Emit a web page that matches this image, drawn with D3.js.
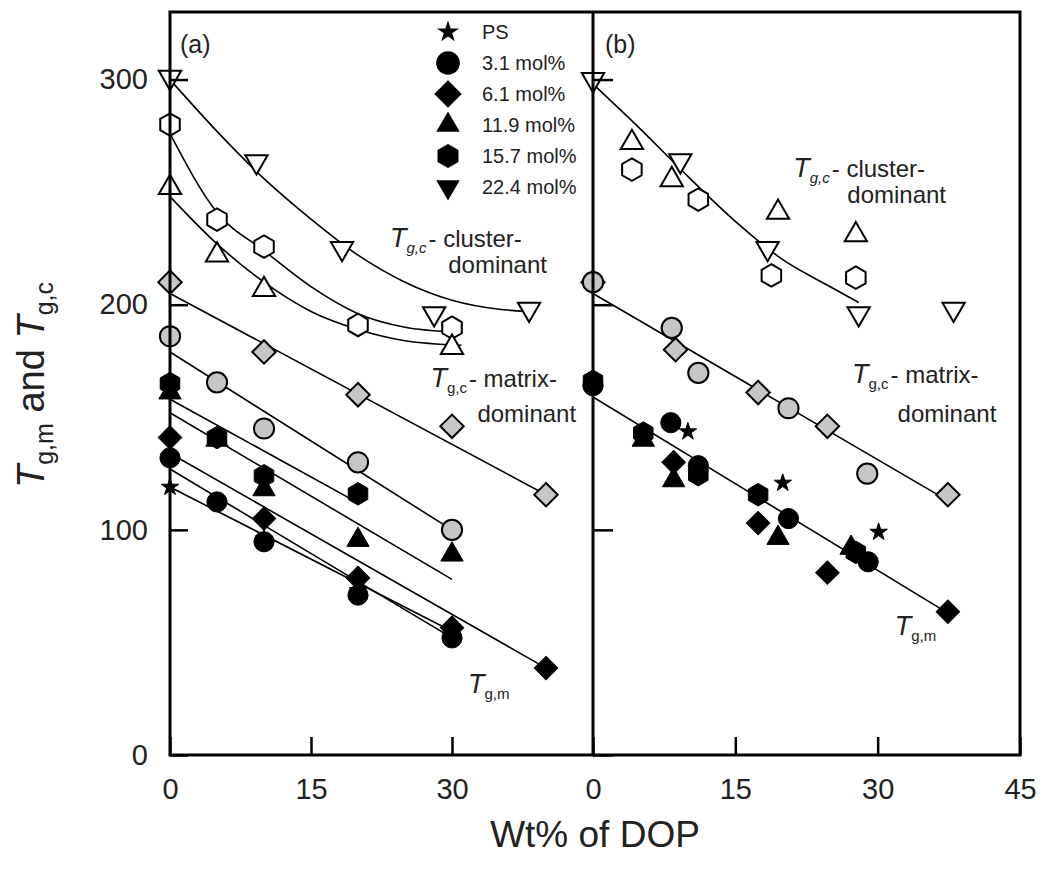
<!DOCTYPE html>
<html lang="en">
  <head>
    <meta charset="utf-8">
    <title>Tg,m and Tg,c vs DOP</title>
    <script src="https://d3js.org/d3.v7.min.js"></script>
    <style type="text/css">
      body { margin: 0; background: #fff; }
      svg { display: block; font-family: "Liberation Sans", Arial, sans-serif; }
      .tick text { font-size: 29px; fill: #222; }
      .tick line { stroke: #000; stroke-width: 2.5px; }
      .fit { fill: none; stroke: #000; stroke-width: 1.6px; }
      .frame { fill: none; stroke: #000; stroke-width: 3px; }
      .note { font-size: 24px; fill: #222; }
    </style>
  </head>
  <body>
    <div id="chart"></div>
    <script>
      // ---- values ----
      var seriesNames  = ["PS", "3.1 mol%", "6.1 mol%", "11.9 mol%", "15.7 mol%", "22.4 mol%"];
      var seriesShapes = ["star", "circle", "diamond", "triangle", "hexagon", "triangleDown"];
      var xTicksA = [0, 15, 30];
      var xTicksB = [0, 15, 30, 45];
      var yTicks  = [0, 100, 200, 300];

      // panel (a): Tg,m (black)
      var a_PS_m  = [[0,119],[10,96],[20,73],[30,53]];
      var a_31_m  = [[0,132],[5,112.4],[10,94.7],[20,71],[30,52]];
      var a_61_m  = [[0,141],[10,105],[20,78.6],[30,56.5],[40,38.6]];
      var a_119_m = [[0,161],[5,140],[10,118],[20,95.5],[30,89]];
      var a_157_m = [[0,165],[5,141],[10,124],[20,116]];
      // panel (a): Tg,c matrix-dominant (grey)
      var a_31_g  = [[0,186],[5,165.5],[10,145],[20,130],[30,100]];
      var a_61_g  = [[0,210],[10,179],[20,160],[30,146],[40,115.6]];
      // panel (a): Tg,c cluster-dominant (open)
      var a_119_c = [[0,252],[5,222],[10,206.7],[30,181]];
      var a_157_c = [[0,280],[5,237.8],[10,225.8],[20,191],[30,189.8]];
      var a_224_c = [[0,301],[9.2,263.5],[18.3,225],[28.1,196],[38.2,198]];

      // panel (b)
      var b_PS_m  = [[10,143.6],[20,120.8],[30.1,99]];
      var b_31_m  = [[0,164],[8.2,147.6],[11.1,128.5],[20.6,105],[29,85.8]];
      var b_61_m  = [[8.5,130],[17.4,103],[24.7,81],[37.4,63.6]];
      var b_119_m = [[5.3,140],[8.5,122],[19.5,96.4],[27.2,92]];
      var b_157_m = [[0,166],[5.3,143],[11.1,124.5],[17.4,115.6],[27.7,90]];
      var b_31_g  = [[0,210],[8.3,189.7],[11.1,169.7],[20.6,154],[28.9,125]];
      var b_61_g  = [[0,210],[8.7,180],[17.4,161],[24.7,146],[37.4,115.6]];
      var b_119_c = [[4.1,272],[8.3,255.5],[19.5,241],[27.7,231]];
      var b_157_c = [[4.1,260],[11.1,246.7],[18.8,213],[27.7,212]];
      var b_224_c = [[0,300],[9.2,264],[18.4,225],[28,196],[38,198]];

      // fitted lines
      var aFitPS   = [[0,119],[30,55]];
      var aFit31m  = [[0,127],[30,52]];
      var aFit61m  = [[0,134],[40,38.6]];
      var aFit119m = [[0,152],[30,78]];
      var aFit157m = [[0,158],[20,112]];
      var aFit31g  = [[0,179],[30,100]];
      var aFit61g  = [[0,205],[40,115.6]];
      var aFit119c = [[0,248],[5,227],[10,210],[15,197],[20,189],[25,184],[31,182]];
      var aFit157c = [[0,276],[5,241],[10,224],[15,208],[20,196],[25,190],[30,188]];
      var aFit224c = [[0,300],[5,277],[10,256],[15,238],[20,222],[25,210],[30,202],[35,198],[38,197]];
      var bFitC = [[0,298],[5,278],[10,257],[15,237],[20,220],[25,208],[28,201]];
      var bFitG = [[0,205],[37.4,113]];
      var bFitM = [[0,159],[37.4,63]];

      // ---- layout ----
      var W = 1043, H = 874;
      var svg = d3.select("#chart").append("svg").attr("width", W).attr("height", H);

      var y  = d3.scaleLinear().domain([0, 330]).range([755, 12]);
      var xA = d3.scaleLinear().domain([0, 45]).range([170, 593]);
      var xB = d3.scaleLinear().domain([0, 45]).range([593, 1020]);

      var BLACK = "#000", GREY = "#c6c6c6", OPEN = "#fff";

      var symbolHexagon = {
        draw: function(context, size) {
          var r = Math.sqrt(size / (1.5 * Math.sqrt(3)));
          for (var i = 0; i < 6; i++) {
            var a = Math.PI / 3 * i - Math.PI / 2;
            if (i === 0) context.moveTo(r * Math.cos(a), r * Math.sin(a));
            else context.lineTo(r * Math.cos(a), r * Math.sin(a));
          }
          context.closePath();
        }
      };
      var shapeTypes = {
        star: [d3.symbolStar, 0], circle: [d3.symbolCircle, 0], diamond: [d3.symbolSquare, 45],
        triangle: [d3.symbolTriangle, 0], hexagon: [symbolHexagon, 0], triangleDown: [d3.symbolTriangle, 180]
      };
      var plotSizes   = { star: 95, circle: 320, diamond: 275, triangle: 215, hexagon: 330, triangleDown: 215 };
      var legendSizes = { star: 150, circle: 440, diamond: 380, triangle: 240, hexagon: 380, triangleDown: 240 };

      function symbolPath(shape, size) {
        return d3.symbol().type(shapeTypes[shape][0]).size(size)();
      }

      // ---- fitted lines ----
      var line = function(x) {
        return d3.line().x(function(d) { return x(d[0]); }).y(function(d) { return y(d[1]); }).curve(d3.curveMonotoneX);
      };
      var fitsA = [aFitPS, aFit31m, aFit61m, aFit119m, aFit157m, aFit31g, aFit61g, aFit119c, aFit157c, aFit224c];
      var fitsB = [bFitC, bFitG, bFitM];
      svg.append("g").selectAll("path.a").data(fitsA).enter().append("path")
        .attr("class", "fit").attr("d", line(xA));
      svg.append("g").selectAll("path.b").data(fitsB).enter().append("path")
        .attr("class", "fit").attr("d", line(xB));

      // ---- markers ----
      var marks = [
        [xA, a_224_c, 5, OPEN], [xA, a_157_c, 4, OPEN], [xA, a_119_c, 3, OPEN],
        [xA, a_61_g, 2, GREY], [xA, a_31_g, 1, GREY],
        [xA, a_PS_m, 0, BLACK], [xA, a_31_m, 1, BLACK], [xA, a_61_m, 2, BLACK],
        [xA, a_119_m, 3, BLACK], [xA, a_157_m, 4, BLACK],
        [xB, b_224_c, 5, OPEN], [xB, b_157_c, 4, OPEN], [xB, b_119_c, 3, OPEN],
        [xB, b_61_g, 2, GREY], [xB, b_31_g, 1, GREY],
        [xB, b_PS_m, 0, BLACK], [xB, b_119_m, 3, BLACK], [xB, b_61_m, 2, BLACK],
        [xB, b_157_m, 4, BLACK], [xB, b_31_m, 1, BLACK]
      ];
      marks.forEach(function(m) {
        var x = m[0], shape = seriesShapes[m[2]];
        svg.append("g").selectAll("path").data(m[1]).enter().append("path")
          .attr("d", symbolPath(shape, plotSizes[shape]))
          .attr("transform", function(d) {
            return "translate(" + x(d[0]) + "," + y(d[1]) + ") rotate(" + shapeTypes[shape][1] + ")";
          })
          .attr("fill", m[3])
          .attr("stroke", "#000")
          .attr("stroke-width", m[3] === BLACK ? 1 : 2);
      });

      // ---- frame and axes ----
      svg.append("rect").attr("class", "frame")
        .attr("x", xA(0)).attr("y", y(330)).attr("width", xB(45) - xA(0)).attr("height", y(0) - y(330));
      svg.append("line").attr("class", "frame")
        .attr("x1", xB(0)).attr("x2", xB(0)).attr("y1", y(330)).attr("y2", y(0));

      function styleAxis(g) {
        g.select(".domain").remove();
        g.selectAll(".tick text").attr("font-family", null).attr("font-size", null);
      }
      svg.append("g").attr("transform", "translate(0," + y(0) + ")")
        .call(d3.axisBottom(xA).tickValues(xTicksA).tickSizeInner(-18).tickSizeOuter(0).tickPadding(23))
        .call(styleAxis);
      svg.append("g").attr("transform", "translate(0," + y(0) + ")")
        .call(d3.axisBottom(xB).tickValues(xTicksB).tickSizeInner(-18).tickSizeOuter(0).tickPadding(23))
        .call(styleAxis);
      svg.append("g").attr("transform", "translate(" + xA(0) + ",0)")
        .call(d3.axisLeft(y).tickValues(yTicks).tickSizeInner(-18).tickSizeOuter(0).tickPadding(22))
        .call(styleAxis);
      svg.append("g").attr("transform", "translate(" + xB(0) + ",0)")
        .call(d3.axisLeft(y).tickValues(yTicks).tickSizeInner(-20).tickSizeOuter(0).tickFormat(""))
        .call(styleAxis);

      // ---- axis titles ----
      svg.append("text")
        .attr("x", (xA(0) + xB(45)) / 2).attr("y", 847)
        .attr("text-anchor", "middle").attr("font-size", 37).attr("fill", "#222")
        .text("Wt% of DOP");

      var yt = svg.append("text")
        .attr("transform", "translate(44," + 385 + ") rotate(-90)")
        .attr("text-anchor", "middle").attr("font-size", 38).attr("fill", "#222");
      yt.append("tspan").attr("font-style", "italic").text("T");
      yt.append("tspan").attr("font-size", 25).attr("dy", 9).text("g,m");
      yt.append("tspan").attr("dy", -9).text(" and ");
      yt.append("tspan").attr("font-style", "italic").text("T");
      yt.append("tspan").attr("font-size", 25).attr("dy", 9).text("g,c");

      // ---- panel labels ----
      svg.append("text").attr("x", 180).attr("y", 53).attr("font-size", 25).attr("fill", "#222").text("(a)");
      svg.append("text").attr("x", 605).attr("y", 53).attr("font-size", 25).attr("fill", "#222").text("(b)");

      // ---- legend ----
      var legend = svg.append("g").selectAll("g").data(seriesNames).enter().append("g")
        .attr("transform", function(d, i) { return "translate(448," + (32 + i * 31) + ")"; });
      legend.append("path")
        .attr("d", function(d, i) { var s = seriesShapes[i]; return symbolPath(s, legendSizes[s]); })
        .attr("transform", function(d, i) { return "rotate(" + shapeTypes[seriesShapes[i]][1] + ")"; })
        .attr("fill", "#000");
      legend.append("text").attr("x", 34).attr("y", 7).attr("font-size", 20).attr("fill", "#222")
        .text(function(d) { return d; });

      // ---- annotations (data coordinates) ----
      function note(x, px, py, sub, rest, italicSub) {
        var t = svg.append("text").attr("class", "note").attr("x", x(px)).attr("y", y(py));
        t.append("tspan").attr("font-style", "italic").attr("font-size", 27).text("T");
        t.append("tspan").attr("font-size", 15).attr("dy", 6)
          .attr("font-style", italicSub ? "italic" : null).text(sub);
        if (rest) t.append("tspan").attr("dy", -6).attr("dx", 2).text(rest);
      }
      function plain(x, px, py, s) {
        svg.append("text").attr("class", "note").attr("x", x(px)).attr("y", y(py)).text(s);
      }
      note(xA, 23.4, 225.6, "g,c", "- cluster-", true);
      plain(xA, 29.6, 214.1, "dominant");
      note(xA, 27.7, 163.4, "g,c", "- matrix-", false);
      plain(xA, 32.7, 147.9, "dominant");
      note(xA, 31.7, 27.5, "g,m", null, false);
      note(xB, 21.1, 256.7, "g,c", "- cluster-", true);
      plain(xB, 26.8, 245.2, "dominant");
      note(xB, 27.3, 165.2, "g,c", "- matrix-", false);
      plain(xB, 32.1, 147.9, "dominant");
      note(xB, 31.8, 53.3, "g,m", null, false);
    </script>
  </body>
</html>
